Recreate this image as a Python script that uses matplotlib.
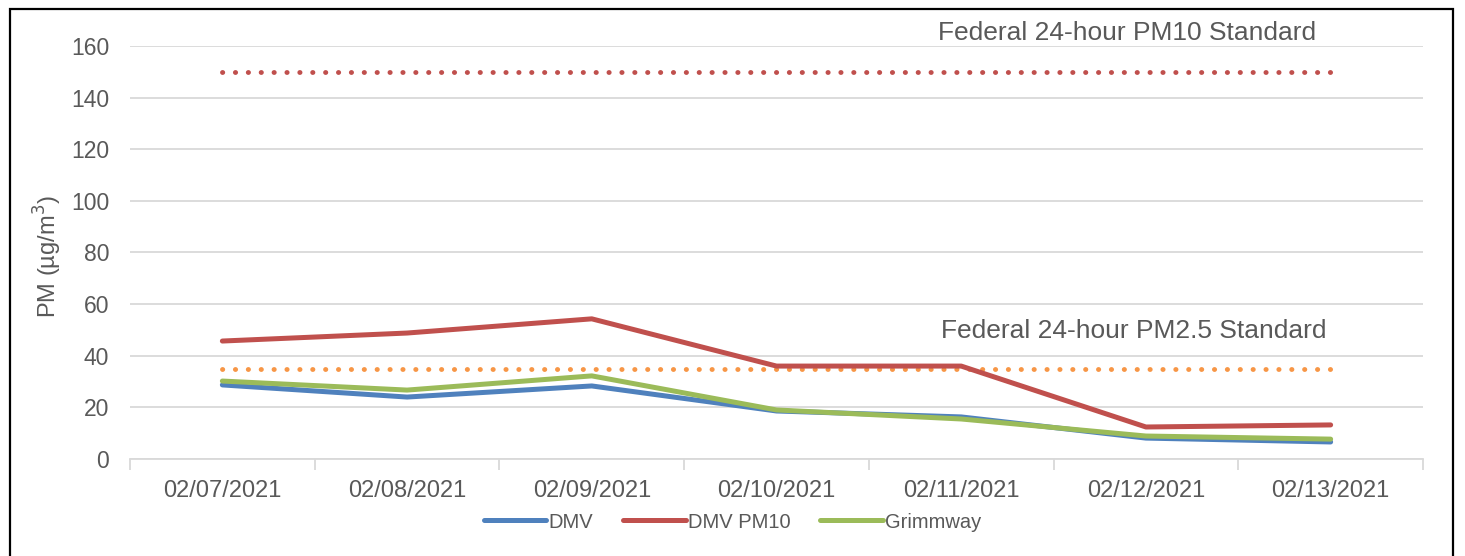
import numpy as np
import matplotlib
matplotlib.use('Agg')
import matplotlib.pyplot as plt
from matplotlib.patches import Rectangle

plt.rcParams['font.family'] = ['Liberation Sans', 'DejaVu Sans']

dates = ['02/07/2021', '02/08/2021', '02/09/2021', '02/10/2021',
         '02/11/2021', '02/12/2021', '02/13/2021']
dmv = [28.7, 24.0, 28.3, 18.6, 16.3, 8.1, 6.6]
dmv_pm10 = [45.7, 48.8, 54.3, 36.0, 36.0, 12.4, 13.2]
grimmway = [30.2, 26.7, 32.2, 19.0, 15.5, 8.9, 7.7]
pm10_std = 150
pm25_std = 35
yticks = [0, 20, 40, 60, 80, 100, 120, 140, 160]

grey = '#595959'
fig = plt.figure(figsize=(14.65, 5.56), dpi=100)
ax = fig.add_axes([130/1465, 1-459/556, (1423-130)/1465, (459-46)/556])

x = np.arange(len(dates))

# standards (dotted)
dot = (0, (0.05, 2.6))
ax.plot(x, [pm10_std]*len(x), color='#c0504d', lw=3.5, ls=dot, dash_capstyle='round', clip_on=False)
ax.plot(x, [pm25_std]*len(x), color='#f79646', lw=3.5, ls=dot, dash_capstyle='round')

l1, = ax.plot(x, dmv, color='#4f81bd', lw=3.6, solid_capstyle='round', label='DMV')
l2, = ax.plot(x, dmv_pm10, color='#c0504d', lw=3.6, solid_capstyle='round', label='DMV PM10')
l3, = ax.plot(x, grimmway, color='#9bbb59', lw=3.6, solid_capstyle='round', label='Grimmway')

ax.text(5.92, 165, 'Federal 24-hour PM10 Standard', ha='right', va='center',
        fontsize=19, color=grey, clip_on=False)
ax.text(5.98, 49.6, 'Federal 24-hour PM2.5 Standard', ha='right', va='center',
        fontsize=19, color=grey)

ax.set_xlim(-0.5, len(x) - 0.5)
ax.set_ylim(0, 160)
ax.set_yticks(yticks)
ax.set_yticklabels([str(v) for v in yticks], fontsize=16.5, color=grey)
ax.set_xticks(x)
ax.set_xticklabels(dates, fontsize=17, color=grey)
ax.set_xticks(np.arange(-0.5, len(x)), minor=True)
ax.tick_params(axis='x', which='major', length=0, pad=15)
ax.tick_params(axis='x', which='minor', length=8, color='#d9d9d9', width=1.3)
ax.tick_params(axis='y', length=0, pad=15)
ax.grid(axis='y', color='#d9d9d9', lw=1.3)
ax.set_axisbelow(True)
for s in ['top', 'right', 'left']:
    ax.spines[s].set_visible(False)
ax.spines['bottom'].set_color('#d9d9d9')
ax.spines['bottom'].set_linewidth(1.3)

ax.set_ylabel('PM (µg/m$^3$)', fontsize=17, color=grey)
ax.yaxis.set_label_coords(-(130-64)/1293, 0.49)

fig.legend(handles=[l1, l2, l3], loc='center', bbox_to_anchor=(0.5, 1-522/556),
           ncol=3, frameon=False, fontsize=14.5, handlelength=3.1, columnspacing=1.5,
           handletextpad=0.1, labelcolor=grey)

# outer frame
fig.patches.append(Rectangle((10/1465, -0.05), (1453-10)/1465, 1.05-9/556,
                             transform=fig.transFigure, fill=False, ec='black', lw=1.6))

fig.savefig('out.png', dpi=100)
